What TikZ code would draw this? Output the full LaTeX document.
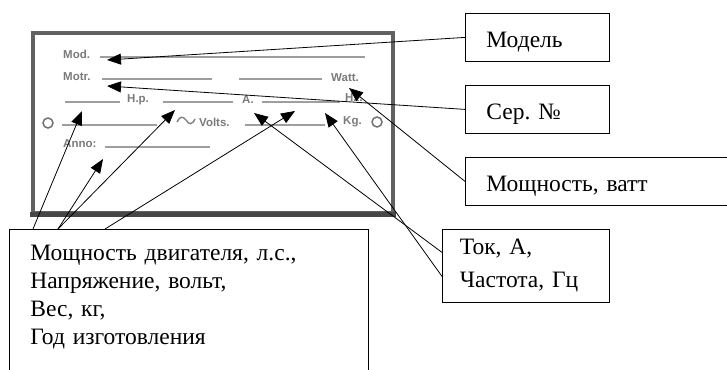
\documentclass[tikz,border=0pt]{standalone}
\usepackage{fontspec}
\setmainfont{Liberation Serif}
\setsansfont{Liberation Sans}
\usetikzlibrary{arrows.meta,calc}
\begin{document}
\begin{tikzpicture}[x=1pt,y=-1pt,
  box/.style={draw=black, line width=0.8pt, anchor=north west, align=left,
    font=\fontsize{23.5}{28}\selectfont, inner ysep=0pt, inner xsep=21pt},
  onebox/.style={box, minimum height=48pt, text height=20pt, text depth=0.5pt},
  conn/.style={draw=black, line width=0.8pt, -{Triangle[length=14pt,width=11pt]}},
  plate/.style={draw=black!62, line width=3.2pt, minimum width=360pt, minimum height=180pt, inner sep=0pt},
  ptxt/.style={font=\sffamily\bfseries\fontsize{11.5}{11.5}\selectfont, text=black!52, inner sep=0pt, anchor=west},
  pline/.style={draw=black!38, line width=1.3pt},
  phole/.style={draw=black!55, line width=1.5pt}
]
\useasboundingbox (0,0) rectangle (727,369);
\clip (0,0) rectangle (727,369);

% ---------- nameplate ----------
\node[plate] (plate) at (213,123) {};
\draw[black!72, line width=4.5pt] ($(plate.south west)+(-1.5,0)$) -- ($(plate.south east)+(1.5,0)$);

\node[ptxt] (pmod)  at (63,54)  {Mod.};
\node[ptxt] (pmotr) at (63,77)  {Motr.};
\node[ptxt] (pwatt) at (331,78) {Watt.};
\node[ptxt] (php)   at (127,100) {H.p.};
\node[ptxt] (pa)    at (242,100) {A.};
\node[ptxt] (phz)   at (345,98) {Hz.};
\node[ptxt] (pvolt) at (199,122) {Volts.};
\node[ptxt] (pkg)   at (343,122) {Kg.};
\node[ptxt] (panno) at (63,144) {Anno:};

\draw[pline] (100,57) -- (365,57);
\draw[pline] (102,79) -- (212,79);
\draw[pline] (239,79) -- (322,79);
\draw[pline] (65,102) -- (120,102);
\draw[pline] (163,102) -- (233,102);
\draw[pline] (262,102) -- (340,102);
\draw[pline] (62,125) -- (157,125);
\draw[pline] (245,125) -- (325,125);
\draw[pline] (105,147) -- (210,147);
\draw[draw=black!50, line width=1.4pt] (177,122) .. controls (180,116) and (183,116) .. (186,120)
   .. controls (189,125) and (192,125) .. (195,119);
\draw[phole] (48,123) circle (5);
\draw[phole] (377,122) circle (5);

% ---------- target points on the nameplate ----------
\coordinate (tMod)   at (107,60);
\coordinate (tMotr)  at (107,86);
\coordinate (tWatt)  at (349,88);
\coordinate (tHp)    at (82,111);
\coordinate (tAnno)  at (103,159);
\coordinate (tVolt)  at (175,110);
\coordinate (tVolt2) at (295,111);
\coordinate (tA)     at (254,113);
\coordinate (tKg)    at (325,113);

% ---------- label boxes ----------
\node[onebox, text width=102pt] (model) at (465,13) {Модель};
\node[onebox, text width=102pt] (ser)   at (465,85) {Сер.\ №};
\node[onebox, text width=219.5pt] (watt) at (465,157) {Мощность, ватт};
\node[box, inner xsep=17.5pt, text width=132pt, minimum height=73pt,
      font=\fontsize{23.5}{33}\selectfont] (tok) at (442,229) {Ток, А,\\Частота, Гц};
\node[box, text width=317pt, inner ysep=16pt] (main) at (9,229)
  {Мощность двигателя, л.с.,\\Напряжение, вольт,\\Вес, кг,\\Год изготовления\rule[-60pt]{0pt}{1pt}};

% ---------- connectors ----------
\draw[conn] (model.west) -- (tMod);
\draw[conn] (ser.west) -- (tMotr);
\draw[conn] (watt.west) -- (tWatt);
\draw[conn] ($(tok.west)+(0,-13.5)$) -- (tA);
\draw[conn] ($(tok.west)+(0,10.5)$) -- (tKg);
\draw[conn] ($(main.north west)+(24,0)$) -- (tHp);
\draw[conn] ($(main.north west)+(49,0)$) -- (tAnno);
\draw[conn] ($(main.north west)+(49,0)$) -- (tVolt);
\draw[conn] ($(main.north west)+(96,0)$) -- (tVolt2);
\end{tikzpicture}
\end{document}
